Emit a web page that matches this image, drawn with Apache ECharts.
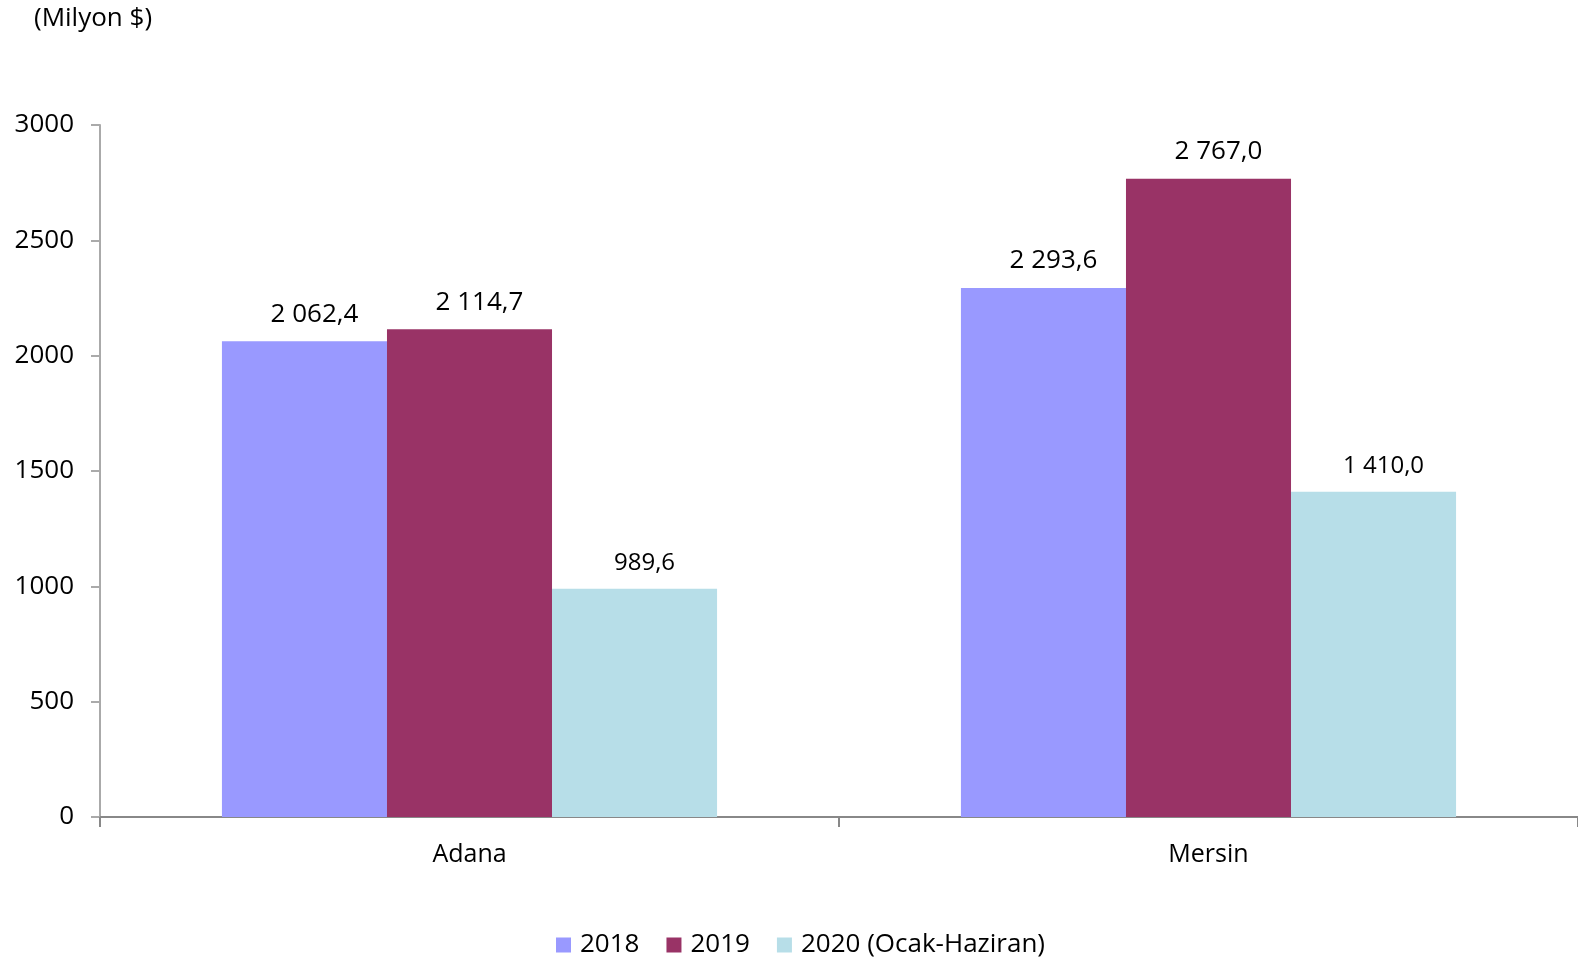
<!DOCTYPE html>
<html><head><meta charset="utf-8">
<script src="https://cdn.jsdelivr.net/npm/echarts@6/dist/echarts.min.js"></script>
<style>html,body{margin:0;padding:0;background:#fff}#c{width:1578px;height:962px}</style>
</head><body><div id="c"></div>
<script>
const categories = ['Adana', 'Mersin'];
const seriesNames = ['2018', '2019', '2020 (Ocak-Haziran)'];
const v2018 = [2062.4, 2293.6];
const v2019 = [2114.7, 2767.0];
const v2020 = [989.6, 1410.0];
const colors = ['#9999FF', '#993366', '#B7DEE8'];
const FONT = '"Open Sans", sans-serif';

function fmt(v) {
  const s = v.toFixed(1).split('.');
  const intp = s[0].replace(/\B(?=(\d{3})+(?!\d))/g, ' ');
  return intp + ',' + s[1];
}

const chart = echarts.init(document.getElementById('c'));
const mk = (name, data, color, fs) => ({
  name, type: 'bar', data, barGap: '0%', barCategoryGap: '33%',
  itemStyle: { color },
  label: { show: true, position: 'top', distance: 14, offset: [10, 0], color: '#000', fontFamily: FONT, fontSize: fs,
    formatter: p => fmt(p.value) }
});
chart.setOption({
  animation: false,
  title: { text: '(Milyon $)', left: 29, top: 1, textStyle: { fontFamily: FONT, fontSize: 26, fontWeight: 'normal', color: '#000' } },
  legend: { top: 927, left: 551, itemWidth: 15, itemHeight: 15, itemGap: 27,
    textStyle: { fontFamily: FONT, fontSize: 26, color: '#000', padding: [0, 0, 0, 4] }, icon: 'rect' },
  grid: { left: 100, width: 1484, top: 125, height: 692 },
  xAxis: { type: 'category', data: categories,
    axisLine: { lineStyle: { color: '#888', width: 2 } },
    axisTick: { show: true, length: 10, lineStyle: { color: '#888', width: 2 } },
    axisLabel: { fontFamily: FONT, fontSize: 25, color: '#000', margin: 25 } },
  yAxis: { type: 'value', min: 0, max: 3000, interval: 500,
    axisLine: { show: true, lineStyle: { color: '#aaa', width: 2 } },
    axisTick: { show: true, length: 9, lineStyle: { color: '#aaa', width: 2 } },
    splitLine: { show: false },
    axisLabel: { fontFamily: FONT, fontSize: 26, color: '#000', margin: 26, formatter: v => String(v) } },
  series: [
    mk(seriesNames[0], v2018, colors[0], 26),
    mk(seriesNames[1], v2019, colors[1], 26),
    mk(seriesNames[2], v2020, colors[2], 24)
  ]
});
</script></body></html>
